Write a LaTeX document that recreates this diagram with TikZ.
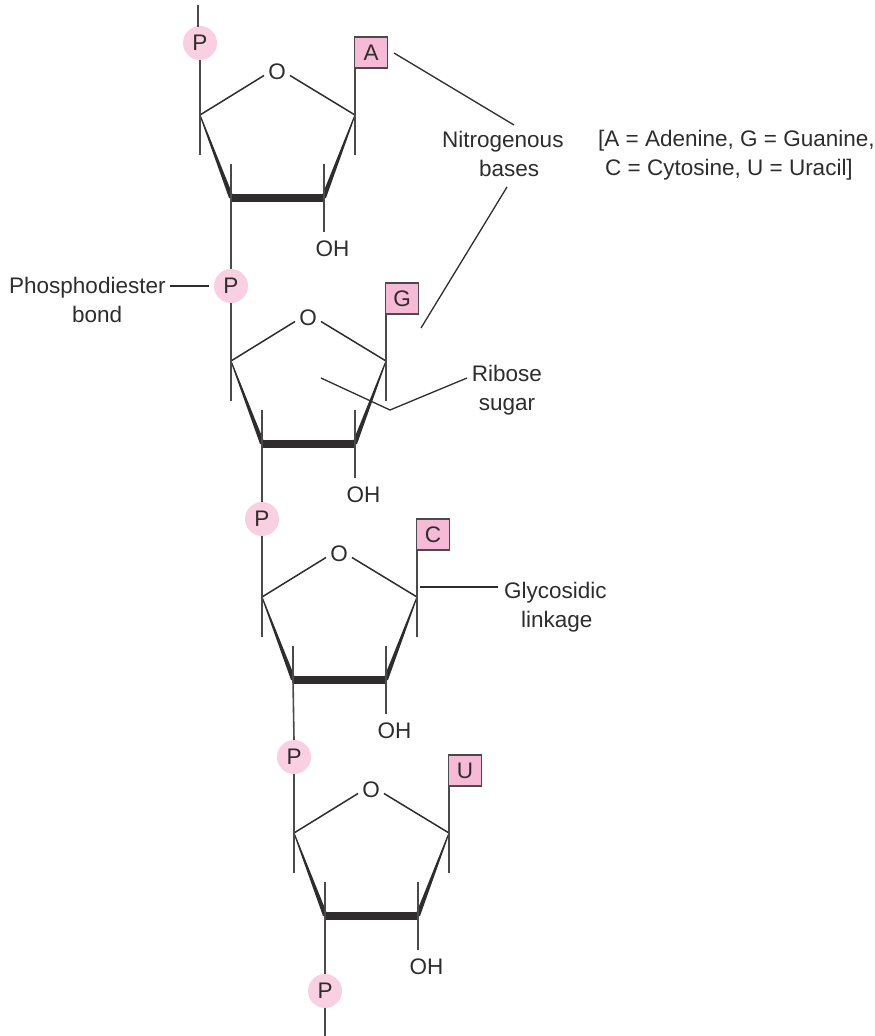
\documentclass[tikz,border=0pt]{standalone}
\usepackage{fontspec}
\setmainfont{Liberation Sans}
\definecolor{ink}{HTML}{2E2C2D}
\definecolor{bondc}{HTML}{4A4A4A}
\definecolor{pcirc}{HTML}{F9D0E1}
\definecolor{pbox}{HTML}{F6BAD6}
\begin{document}
\begin{tikzpicture}[x=1pt,y=-1pt,
  bond/.style={draw=bondc,line width=1.6pt},
  ringbond/.style={draw=ink,line width=1.5pt},
  phos/.style={circle,fill=pcirc,minimum size=34pt,inner sep=0pt,text=ink,font=\fontsize{22.5}{22.5}\selectfont},
  base/.style={rectangle,fill=pbox,draw=bondc,line width=1.6pt,minimum width=33pt,minimum height=31pt,inner sep=0pt,text=ink,font=\fontsize{22.5}{22.5}\selectfont},
  atom/.style={inner sep=0pt,text=ink,font=\fontsize{22.5}{22.5}\selectfont},
  lab/.style={inner sep=0pt,text=ink,align=center,font=\fontsize{22.5}{29}\selectfont},
  leader/.style={draw=ink,line width=1.3pt}]
\useasboundingbox (0,0) rectangle (875,1036);
\node[phos] (P1) at (200,43) {P};
\node[phos] (P2) at (231,286) {P};
\node[phos] (P3) at (262,519) {P};
\node[phos] (P4) at (294,757) {P};
\node[phos] (P5) at (325,991) {P};
\coordinate (top) at (198,5);
\coordinate (end) at (325,1036);
\draw[bond] (top) -- (198,27);
\draw[bond] (P5.south) -- (end);
\foreach \i/\j/\dx/\dy/\b in {1/2/0/0/A,2/3/31/246/G,3/4/62/482/C,4/5/94/718/U}{
  \begin{scope}[shift={(\dx,\dy)}]
    \node[atom,inner sep=4pt] (O\i) at (277,72) {O};
    \node[base] (B\i) at (371,52.5) {\b};
    \node[atom] (H\i) at (332.5,249) {OH};
    \coordinate (lv\i) at (200,115);
    \coordinate (rv\i) at (355,115);
    \coordinate (bl\i) at (231,198);
    \coordinate (br\i) at (324,198);
    \coordinate (lt\i) at (200,155);
    \coordinate (rt\i) at (355,155);
    \coordinate (blt\i) at (231,164);
    \coordinate (brt\i) at (324,164);
    \coordinate (oh\i) at (324,232);
    \coordinate (bb\i) at (355,68);
    % tapered ring sides
    \fill[ink] (199.4,115) -- (200.6,115) -- (234,198) -- (229,198) -- cycle;
    \fill[ink] (354.4,115) -- (355.6,115) -- (326,198) -- (321,198) -- cycle;
    \draw[ink,line width=8.5pt] (bl\i) -- (br\i);
    \draw[ringbond] (lv\i) -- (O\i.195);
    \draw[ringbond] (rv\i) -- (O\i.-15);
    \draw[bond] (lv\i) -- (lt\i);
    \draw[bond] (rv\i) -- (rt\i);
    \draw[bond] (bl\i) -- (blt\i);
    \draw[bond] (br\i) -- (brt\i);
    \draw[bond] (br\i) -- (oh\i);
    \draw[bond] (rv\i) -- (bb\i);
  \end{scope}
  \draw[bond] (P\i.south) -- (lv\i);
  \draw[bond] (bl\i) -- (P\j.north);
}
% labels
\node[lab,anchor=west,align=left] (phosl) at (9,300) {Phosphodiester\\\hspace*{63pt}bond};
\node[lab,anchor=west,align=left] (nitro) at (442,154) {Nitrogenous\\\hspace*{37pt}bases};
\node[lab,anchor=west,align=left] (code) at (598,155.5) {[A = Adenine, G = Guanine,\\\hspace*{7pt}C = Cytosine, U = Uracil]};
\node[lab] (ribo) at (507,390.5) {Ribose\\sugar};
\node[lab,anchor=west,align=left] (glyc) at (504,607) {Glycosidic\\\hspace*{17pt}linkage};
% leaders
\coordinate (na1) at (394,53);
\coordinate (na2) at (514,125);
\coordinate (ng1) at (507,187);
\coordinate (ng2) at (421,328);
\coordinate (r1) at (321,378);
\coordinate (r2) at (390,410);
\coordinate (r3) at (467,378);
\coordinate (g1) at (420,587);
\coordinate (g2) at (498,587);
\coordinate (ph1) at (170,286);
\coordinate (ph2) at (209,286);
\draw[leader] (na1) -- (na2);
\draw[leader] (ng1) -- (ng2);
\draw[leader] (r1) -- (r2) -- (r3);
\draw[leader] (g1) -- (g2);
\draw[leader] (ph1) -- (ph2);
\end{tikzpicture}
\end{document}
